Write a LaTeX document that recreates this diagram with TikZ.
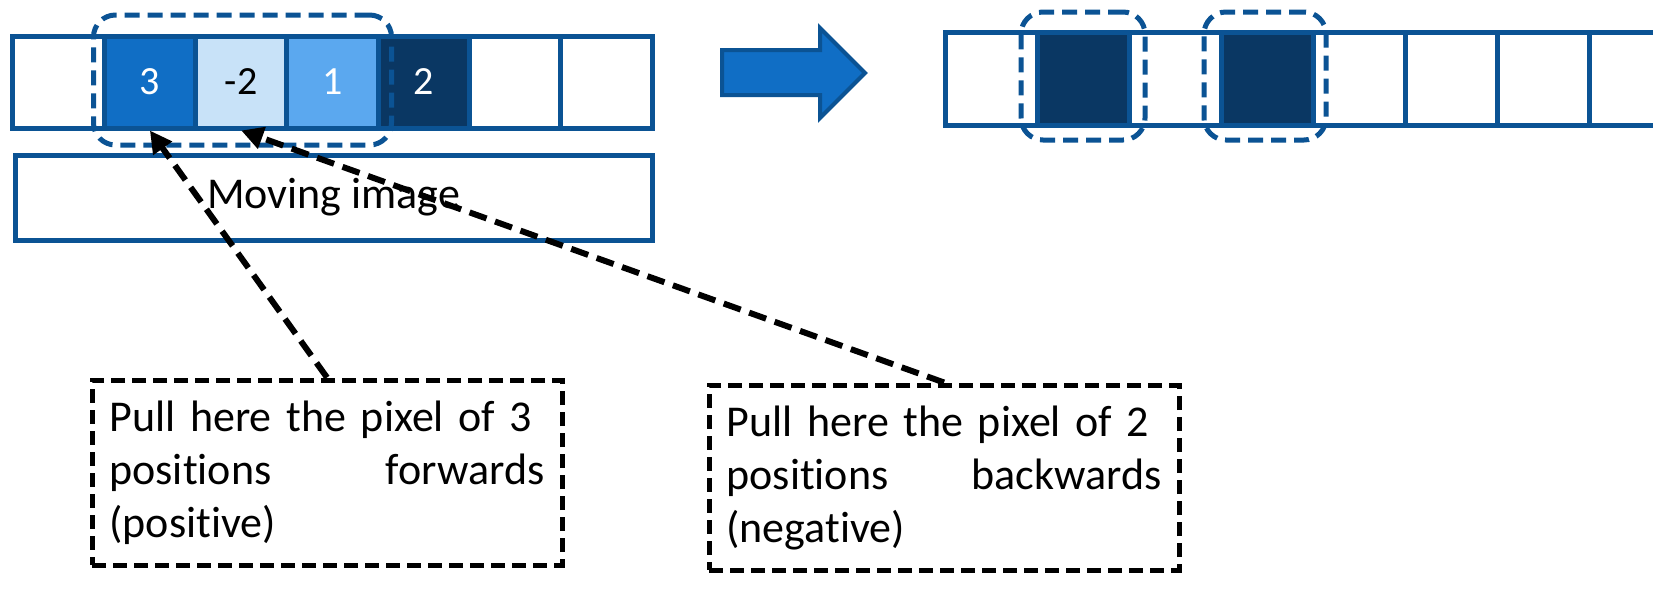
\documentclass[tikz,border=0pt]{standalone}
\usepackage{fontspec}
\setmainfont{Carlito}[Ligatures={NoCommon}]
\usetikzlibrary{arrows.meta,positioning}
\definecolor{bord}{HTML}{0B5394}
\definecolor{cmed}{HTML}{106EC5}
\definecolor{clight}{HTML}{C8E2F8}
\definecolor{cmlight}{HTML}{5BA8EF}
\definecolor{cdark}{HTML}{0A3763}
\tikzset{
  cellL/.style={draw=bord,line width=5pt,minimum width=91.3pt,minimum height=92pt,inner sep=0pt,font=\fontsize{40}{48}\selectfont},
  cellR/.style={draw=bord,line width=5pt,minimum width=92pt,minimum height=93pt,inner sep=0pt},
  groupbox/.style={draw=bord,line width=5pt,dash pattern=on 15pt off 8pt,rounded corners=22pt,inner sep=0pt},
  notebox/.style={draw=black,line width=5pt,dash pattern=on 14pt off 7pt,inner sep=0pt,minimum width=470pt,minimum height=185pt,text width=435pt,align=left,font=\fontsize{44}{53}\selectfont},
  pull/.style={draw=black,line width=6pt,dash pattern=on 18pt off 9pt,-{Triangle[length=22pt,width=22pt]}},
}
\begin{document}
\begin{tikzpicture}[x=1pt,y=-1pt]
\useasboundingbox (0,0) rectangle (1653,600);
\fill[white] (0,0) rectangle (1653,600);
% left strip
\node[cellL,fill=white] (l1) at (58.6,82) {};
\node[cellL,fill=cmed,text=white] (l2) at (149.9,82) {3};
\node[cellL,fill=clight,text=black] (l3) at (241.2,82) {-2};
\node[cellL,fill=cmlight,text=white] (l4) at (332.5,82) {1};
\node[cellL,fill=cdark,text=white] (l5) at (423.8,82) {2};
\node[cellL,fill=white] (l6) at (515.1,82) {};
\node[cellL,fill=white] (l7) at (606.4,82) {};
\node[groupbox,minimum width=298pt,minimum height=130pt] (g1) at (242.5,80) {};
% moving image
\node[draw=bord,line width=5pt,minimum width=637pt,minimum height=85pt,inner sep=0pt,font=\fontsize{44}{53}\selectfont] (mov) at (333.5,197.5) {Moving image};
% block arrow
\draw[bord,line width=4pt,fill=cmed,line join=miter] (722,50) -- (820,50) -- (820,28) -- (865,73) -- (820,118) -- (820,95) -- (722,95) -- cycle;
% right strip
\begin{scope}
\clip (900,0) rectangle (1653,600);
\node[cellR,fill=white] (r1) at (991,78.5) {};
\node[cellR,fill=cdark] (r2) at (1083,78.5) {};
\node[cellR,fill=white] (r3) at (1175,78.5) {};
\node[cellR,fill=cdark] (r4) at (1267,78.5) {};
\node[cellR,fill=white] (r5) at (1359,78.5) {};
\node[cellR,fill=white] (r6) at (1451,78.5) {};
\node[cellR,fill=white] (r7) at (1543,78.5) {};
\node[cellR,fill=white] (r8) at (1635,78.5) {};
\end{scope}
\node[groupbox,minimum width=124pt,minimum height=128pt] (g2) at (1083,76) {};
\node[groupbox,minimum width=122pt,minimum height=128pt] (g3) at (1265,76) {};
% notes
\node[notebox] (n1) at (327,472.5) {Pull here the pixel of 3\\positions\hfill forwards\\(positive)};
\node[notebox] (n2) at (944,477.5) {Pull here the pixel of 2\\positions\hfill backwards\\(negative)};
% connectors
\draw[pull] (n1.north) -- (l2.south);
\draw[pull] (n2.north) -- (l3.south);
\end{tikzpicture}
\end{document}
